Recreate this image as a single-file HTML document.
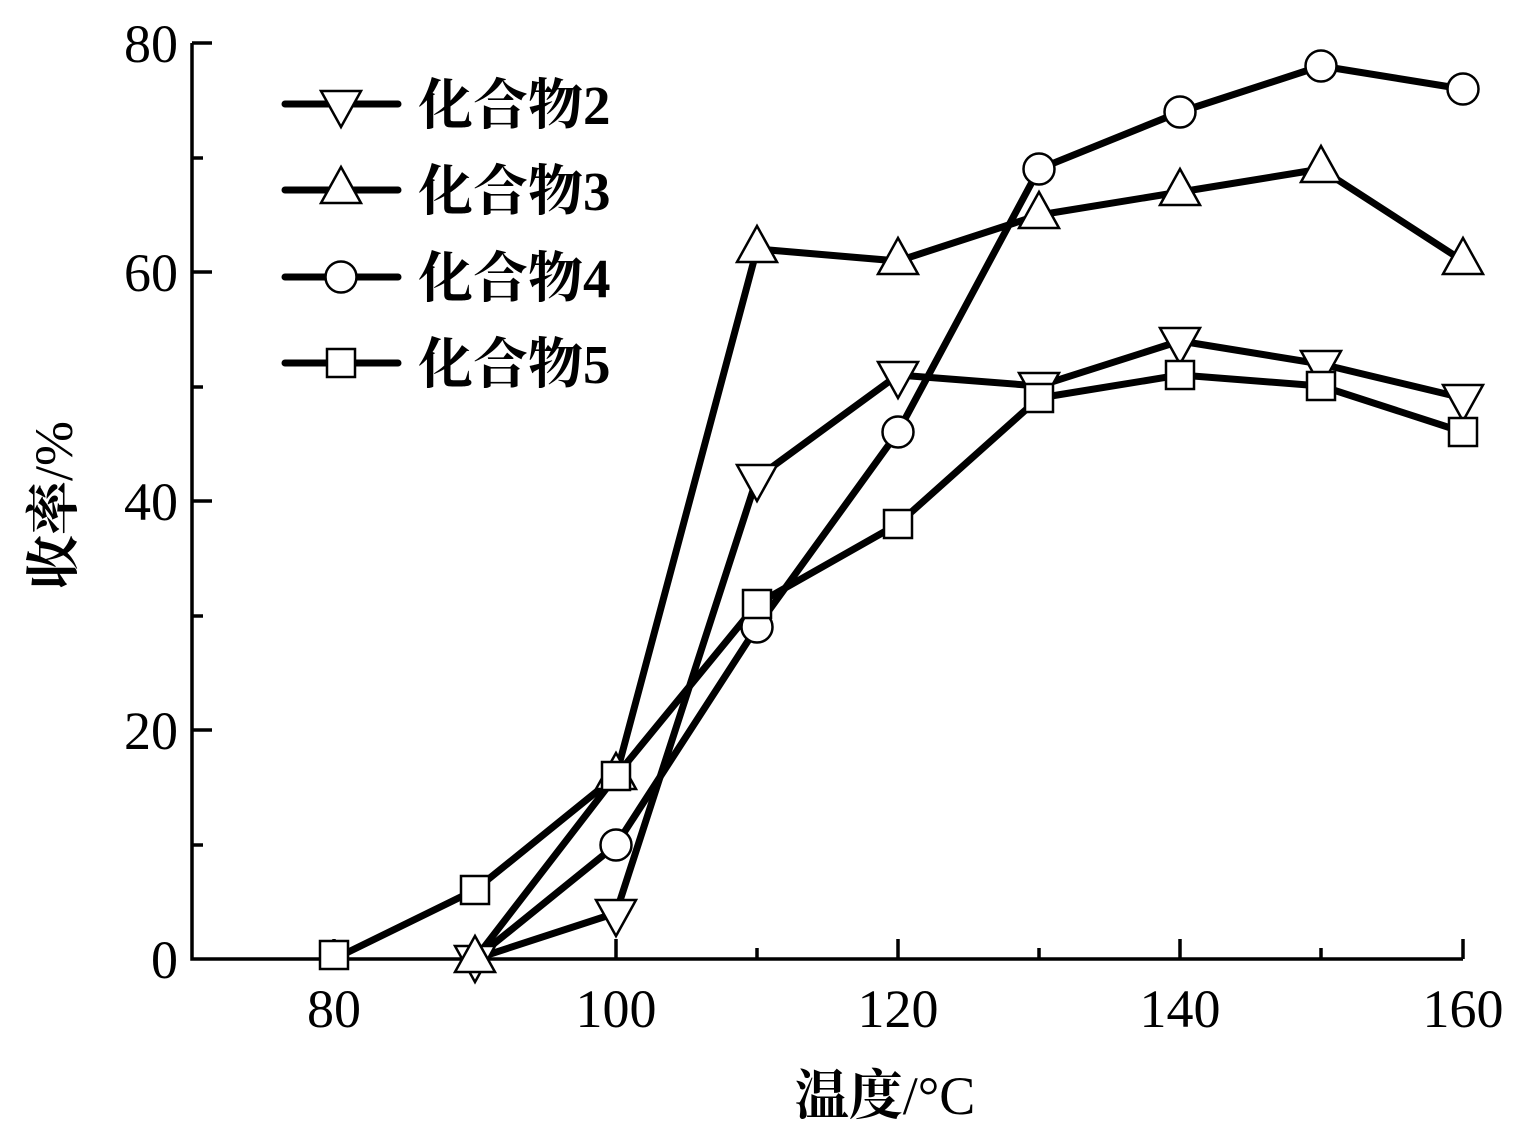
<!DOCTYPE html>
<html><head><meta charset="utf-8"><style>body{margin:0;background:#fff}</style></head><body>
<svg width="1535" height="1135" xmlns="http://www.w3.org/2000/svg" font-family="Liberation Serif, Noto Serif CJK SC, serif">
<rect width="1535" height="1135" fill="#fff"/>
<g stroke="#000" stroke-width="3.5" fill="none">
<path d="M192,43 V959 H1463"/>
<path d="M192,43 h20 M192,272 h20 M192,501 h20 M192,730 h20 M192,158 h11 M192,387 h11 M192,616 h11 M192,845 h11"/>
<path d="M334,959 v-20 M616,959 v-20 M898,959 v-20 M1180,959 v-20 M1463,959 v-20 M475,959 v-11 M757,959 v-11 M1039,959 v-11 M1321,959 v-11"/>
</g>
<g font-size="54" text-anchor="end">
<text x="178" y="62">80</text><text x="178" y="291">60</text><text x="178" y="520">40</text><text x="178" y="749">20</text><text x="178" y="978">0</text>
</g>
<g font-size="54" text-anchor="middle">
<text x="334" y="1027">80</text><text x="616" y="1027">100</text><text x="898" y="1027">120</text><text x="1180" y="1027">140</text><text x="1463" y="1027">160</text>
<text x="885" y="1114" font-size="54"><tspan font-family="Noto Serif CJK SC, serif" font-weight="bold">温度</tspan>/°C</text>
</g>
<text transform="translate(72,505) rotate(-90)" font-size="54" text-anchor="middle"><tspan font-family="Noto Serif CJK SC, serif" font-weight="bold">收率</tspan>/%</text>
<g stroke="#000" stroke-width="7" fill="none" stroke-linejoin="round" stroke-linecap="round">
<polyline points="475,959 616,913 757,478 898,375 1039,386 1180,341 1321,364 1463,398"/>
<polyline points="475,959 616,776 757,249 898,261 1039,215 1180,192 1321,169 1463,261"/>
<polyline points="475,959 616,845 757,627 898,432 1039,169 1180,112 1321,66 1463,89"/>
<polyline points="334,959 475,890 616,776 757,604 898,524 1039,398 1180,375 1321,386 1463,432"/>
<path d="M285,104 H398 M285,190 H398 M285,277 H398 M285,363 H398"/>
</g>
<defs>
<path id="dn" d="M-20,-13 H20 L0,23 Z"/>
<path id="up" d="M-20,13 H20 L0,-23 Z"/>
</defs>
<g fill="#fff" stroke="#000" stroke-width="2.5">
<use href="#dn" x="475" y="959"/><use href="#dn" x="616" y="913"/><use href="#dn" x="757" y="478"/><use href="#dn" x="898" y="375"/><use href="#dn" x="1039" y="386"/><use href="#dn" x="1180" y="341"/><use href="#dn" x="1321" y="364"/><use href="#dn" x="1463" y="398"/>
<use href="#up" x="475" y="959"/><use href="#up" x="616" y="776"/><use href="#up" x="757" y="249"/><use href="#up" x="898" y="261"/><use href="#up" x="1039" y="215"/><use href="#up" x="1180" y="192"/><use href="#up" x="1321" y="169"/><use href="#up" x="1463" y="261"/>
<circle cx="616" cy="845" r="15.5"/><circle cx="757" cy="627" r="15.5"/><circle cx="898" cy="432" r="15.5"/><circle cx="1039" cy="169" r="15.5"/><circle cx="1180" cy="112" r="15.5"/><circle cx="1321" cy="66" r="15.5"/><circle cx="1463" cy="89" r="15.5"/>
<g transform="translate(-14,-14)">
<rect x="334" y="959" width="28" height="28" transform="translate(0,-4)"/>
<rect x="475" y="890" width="28" height="28"/><rect x="616" y="776" width="28" height="28"/><rect x="757" y="604" width="28" height="28"/><rect x="898" y="524" width="28" height="28"/><rect x="1039" y="398" width="28" height="28"/><rect x="1180" y="375" width="28" height="28"/><rect x="1321" y="386" width="28" height="28"/><rect x="1463" y="432" width="28" height="28"/>
<rect x="341" y="363" width="28" height="28"/>
</g>
<use href="#dn" x="341" y="104"/><use href="#up" x="341" y="190"/><circle cx="341" cy="277" r="15.5"/>
</g>
<g font-size="55">
<text x="418" y="124"><tspan font-family="Noto Serif CJK SC, serif" font-weight="bold">化合物</tspan><tspan font-weight="bold">2</tspan></text>
<text x="418" y="210"><tspan font-family="Noto Serif CJK SC, serif" font-weight="bold">化合物</tspan><tspan font-weight="bold">3</tspan></text>
<text x="418" y="297"><tspan font-family="Noto Serif CJK SC, serif" font-weight="bold">化合物</tspan><tspan font-weight="bold">4</tspan></text>
<text x="418" y="383"><tspan font-family="Noto Serif CJK SC, serif" font-weight="bold">化合物</tspan><tspan font-weight="bold">5</tspan></text>
</g>
</svg>
</body></html>
